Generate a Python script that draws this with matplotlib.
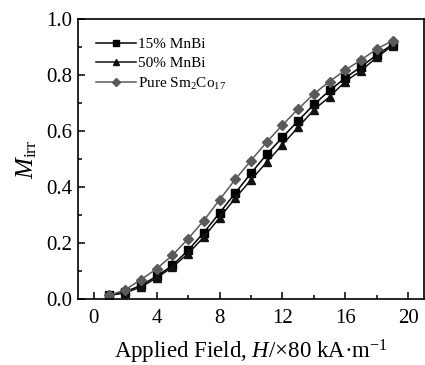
import matplotlib
matplotlib.use("Agg")
import matplotlib.pyplot as plt
from matplotlib.ticker import MultipleLocator, FormatStrFormatter

plt.rcParams['font.family'] = ['Liberation Serif', 'DejaVu Serif']
plt.rcParams['mathtext.fontset'] = 'custom'
plt.rcParams['mathtext.rm'] = 'Liberation Serif'
plt.rcParams['mathtext.it'] = 'Liberation Serif:italic'

field = [1, 2, 3, 4, 5, 6, 7, 8, 9, 10, 11, 12, 13, 14, 15, 16, 17, 18, 19]
mnbi15 = [0.014, 0.026, 0.050, 0.082, 0.121, 0.175, 0.238, 0.308, 0.379, 0.450,
          0.517, 0.578, 0.637, 0.695, 0.745, 0.790, 0.830, 0.872, 0.909]
mnbi50 = [0.014, 0.023, 0.044, 0.076, 0.115, 0.163, 0.222, 0.291, 0.361, 0.426,
          0.489, 0.552, 0.614, 0.676, 0.723, 0.777, 0.816, 0.863, 0.905]
pure = [0.014, 0.034, 0.070, 0.109, 0.157, 0.216, 0.281, 0.355, 0.428, 0.495,
        0.561, 0.622, 0.679, 0.733, 0.777, 0.818, 0.854, 0.893, 0.923]

fig = plt.figure(figsize=(4.25, 3.65), dpi=100)
ax = fig.add_axes([78/425, (365-299.3)/365, 346/425, 280.3/365])

ax.plot(field, mnbi15, color='black', lw=1.1, marker='s', ms=6, label='15% MnBi')
ax.plot(field, mnbi50, color='#111111', lw=1.1, marker='^', ms=6, label='50% MnBi')
ax.plot(field, pure, color='#5a5a5a', lw=1.1, marker='D', ms=5.2, label='Pure Sm$_2$Co$_{17}$')

ax.set_xlim(-1, 21)
ax.set_ylim(0, 1.0)
ax.xaxis.set_major_locator(MultipleLocator(4))
ax.xaxis.set_minor_locator(MultipleLocator(2))
ax.yaxis.set_major_locator(MultipleLocator(0.2))
ax.yaxis.set_minor_locator(MultipleLocator(0.1))
ax.yaxis.set_major_formatter(FormatStrFormatter('%.1f'))
ax.tick_params(which='both', direction='in', top=False, right=False, labelsize=15, width=1.1)
ax.tick_params(which='major', length=5)
ax.tick_params(which='minor', length=3)
ax.tick_params(axis='x', which='major', pad=7)
ax.tick_params(axis='y', which='major', pad=4)
for s in ax.spines.values():
    s.set_linewidth(1.2)

ax.set_xlabel(r'Applied Field, $H$/×80 kA·m$^{-1}$', fontsize=16.5, labelpad=7)
ax.set_ylabel(r'$M_{\rm irr}$', fontsize=18, labelpad=5)

leg = ax.legend(loc='upper left', frameon=False, fontsize=11, handlelength=2.6,
                handletextpad=0.15, labelspacing=0.35, borderaxespad=0.0,
                markerscale=0.8, bbox_to_anchor=(0.035, 0.955))

fig.savefig('out.png', dpi=100)
